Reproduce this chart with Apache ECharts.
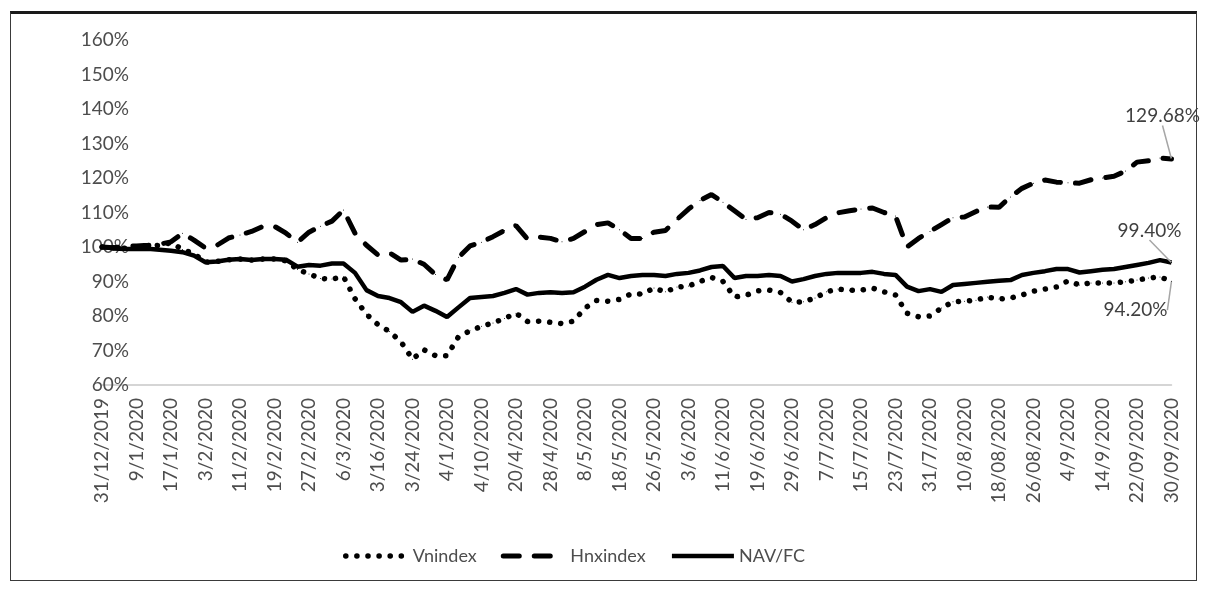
<!DOCTYPE html>
<html>
<head>
<meta charset="utf-8">
<script src="https://cdn.jsdelivr.net/npm/echarts@6/dist/echarts.min.js"></script>
<style>
  html, body { margin: 0; padding: 0; background: #ffffff; }
  #chart { width: 1206px; height: 590px; }
  #frame { position: absolute; left: 10px; top: 11px; width: 1185px; height: 566px;
           border: 1.5px solid #3a3a3a; border-top: 3px solid #1a1a1a; pointer-events: none; }
</style>
</head>
<body>
<div id="chart"></div>
<div id="frame"></div>
<script>
// Tick labels shown on the x axis (every third data point)
const tickLabels = ['31/12/2019','9/1/2020','17/1/2020','3/2/2020','11/2/2020','19/2/2020','27/2/2020','6/3/2020',
  '3/16/2020','3/24/2020','4/1/2020','4/10/2020','20/4/2020','28/4/2020','8/5/2020','18/5/2020','26/5/2020',
  '3/6/2020','11/6/2020','19/6/2020','29/6/2020','7/7/2020','15/7/2020','23/7/2020','31/7/2020','10/8/2020',
  '18/08/2020','26/08/2020','4/9/2020','14/9/2020','22/09/2020','30/09/2020'];

const seriesNames = ['Vnindex', 'Hnxindex', 'NAV/FC'];
const endLabels = ['94.20%', '129.68%', '99.40%'];

const vnindex = [100,99.8,99.6,99.8,100.2,100.5,101.2,99.3,98,95.6,
  95.8,96.3,96.5,96.2,96.5,96.5,96,93.5,92.2,90.9,
  90.7,91.4,85,80.5,77.5,75.5,72.5,67.5,70.2,68.5,
  68.5,74,75.7,77,78,79.3,80.8,78.4,78.5,78.2,
  77.8,78.5,82.3,84.5,84.3,84.8,86.4,86.4,88.1,87,
  88.4,88.7,90,91.2,90,85.5,86,87.3,87.5,86.8,
  84,84.1,85.2,87,87.8,87.5,87.5,88.1,87,86.1,
  80.8,79.8,80,82.3,84.1,84.3,84.6,85.5,84.9,85.2,
  86.1,87.2,87.8,88.4,90.2,89,89.6,89.6,89.6,89.9,
  90.4,91,91.3,90.1];

const hnxindex = [100,99.8,100.2,100.3,100.5,100.8,101.5,104,102,99.7,
  100.5,102.6,103.5,104.5,106,106,104,101.4,104.3,106,
  107.5,110.7,104,100.5,97.7,98.3,96.2,96.5,95,92,
  90.5,97,100.3,101.4,103,104.8,106.2,102.3,102.9,102.5,
  101.5,102.5,104.5,106.5,107,105,102.5,102.5,104.3,104.8,
  108,111,113.5,115.2,113,110.5,108,108.5,110,109.5,
  107.5,105,106.5,108.5,109.9,110.5,111,111.3,110,109,
  100,102.5,104.5,106.5,108.5,108.7,110.3,111.6,111.5,114.5,
  117,118.5,119.4,118.8,118.6,118.5,119.5,120,120.5,122,
  124.6,125,125.8,125.5];

const navfc = [100,99.6,99.4,99.4,99.5,99.2,98.9,98.5,97.5,95.6,
  95.8,96.3,96.5,96.2,96.5,96.5,96.3,94.3,94.8,94.6,
  95.2,95.2,92.5,87.5,85.8,85.2,84,81.2,83,81.5,
  79.7,82.5,85.2,85.5,85.8,86.7,87.8,86.2,86.7,86.9,
  86.7,86.9,88.5,90.5,91.9,91,91.6,91.9,91.9,91.6,
  92.2,92.5,93.2,94.2,94.5,91,91.6,91.6,91.9,91.6,
  90,90.7,91.6,92.2,92.5,92.5,92.5,92.8,92.2,91.9,
  88.5,87.2,87.8,87,89,89.3,89.6,89.9,90.2,90.4,
  91.9,92.5,93,93.6,93.6,92.6,93,93.4,93.6,94.2,
  94.8,95.4,96.2,95.5];

const yTicks = { min: 60, max: 160, interval: 10 };

// category axis: one category per data point, tick label on every third
const categories = vnindex.map((v, i) => (i % 3 === 0 ? tickLabels[i / 3] : tickLabels[Math.floor(i / 3)] + ' +' + (i % 3)));

const FONT = 'Lato';
const TEXT = '#4d4d4d';

const styles = [
  { color: '#000', width: 5.5, type: [0.1, 11], cap: 'round' },
  { color: '#000', width: 5, type: [16, 15], cap: 'round' },
  { color: '#000', width: 4.5, type: 'solid' }
];
const layouts = [{ dx: -36, dy: 44 }, { dx: -9, dy: -28 }, { dx: -22, dy: -17 }];

function withEnd(arr, text) {
  return arr.map((v, i) => i === arr.length - 1
    ? { value: v, label: { show: true, formatter: text }, labelLine: { show: true } }
    : v);
}

function makeSeries(k, arr) {
  return {
    name: seriesNames[k],
    type: 'line',
    data: withEnd(arr, endLabels[k]),
    symbol: 'circle',
    symbolSize: 1,
    showSymbol: true,
    showAllSymbol: true,
    silent: true,
    animation: false,
    lineStyle: styles[k],
    itemStyle: { color: '#000000' },
    label: { show: false, fontFamily: FONT, fontSize: 19, color: '#404040' },
    labelLine: { show: false, lineStyle: { color: '#a6a6a6', width: 1.5 } },
    labelLayout: layouts[k],
    z: 2
  };
}

const chart = echarts.init(document.getElementById('chart'), null, { renderer: 'canvas' });
chart.setOption({
  backgroundColor: '#ffffff',
  animation: false,
  grid: { left: 102, right: 34.5, top: 40, bottom: 205, containLabel: false },
  xAxis: {
    type: 'category',
    data: categories,
    boundaryGap: false,
    axisLine: { show: true, lineStyle: { color: '#c8c8c8', width: 1.5 } },
    axisTick: { show: false },
    axisLabel: {
      interval: 2, rotate: 90, margin: 13,
      fontFamily: FONT, fontSize: 19, color: TEXT,
      formatter: (v, i) => (i % 3 === 0 ? tickLabels[i / 3] : '')
    },
    splitLine: { show: false }
  },
  yAxis: {
    type: 'value',
    min: yTicks.min, max: yTicks.max, interval: yTicks.interval,
    axisLine: { show: false },
    axisTick: { show: false },
    splitLine: { show: false },
    axisLabel: { formatter: '{value}%', fontFamily: FONT, fontSize: 19, color: TEXT, margin: -27 }
  },
  legend: {
    data: seriesNames.map((n, k) => ({ name: n, lineStyle: styles[k] })),
    left: 338, top: 542,
    itemWidth: 62, itemHeight: 14, itemGap: 24,
    itemStyle: { opacity: 0 },
    textStyle: { fontFamily: FONT, fontSize: 18, color: TEXT }
  },
  series: [makeSeries(0, vnindex), makeSeries(1, hnxindex), makeSeries(2, navfc)]
});
</script>
</body>
</html>
